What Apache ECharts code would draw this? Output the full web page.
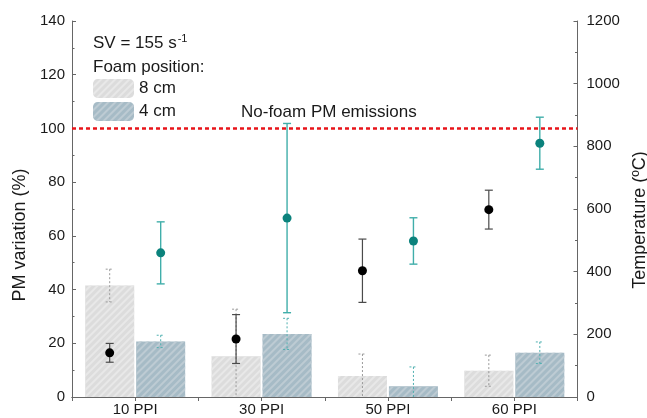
<!DOCTYPE html>
<html>
<head>
<meta charset="utf-8">
<script src="https://cdn.jsdelivr.net/npm/echarts@6/dist/echarts.min.js"></script>
<style>html,body{margin:0;padding:0;background:#fff}#c{width:647px;height:418px}</style>
</head>
<body>
<div id="c"></div>
<script>
const categories = ['10 PPI', '30 PPI', '50 PPI', '60 PPI'];
const pm8 = [41.5, 15.2, 7.8, 9.8];
const pm8Err = [6.1, 17.5, 8.2, 5.8];
const pm4 = [20.7, 23.5, 4.0, 16.5];
const pm4Err = [2.3, 5.8, 7.2, 4.0];
const temp8 = [141, 185, 403, 598];
const temp8Err = [30, 78, 101, 62];
const temp4 = [460, 571, 498, 810];
const temp4Err = [99, 302, 74, 83];
const noFoamLevel = 100;

const FONT = 'Liberation Sans, Arial, sans-serif';
const BAR_W = 49;
const OFFSET = 25.5;

function toData(vals, errs) { return vals.map((v, i) => [i, v, errs[i]]); }

function errRender(side, color, dashed, dotColor, lineW) {
  return function (params, api) {
    const i = api.value(0), v = api.value(1), e = api.value(2);
    const c = api.coord([i, v]);
    const t = api.coord([i, v + e]);
    const b = api.coord([i, Math.max(0, v - e)]);
    const x = c[0] + side * OFFSET;
    const style = { stroke: color, lineWidth: lineW, lineDash: dashed ? [2, 2] : null };
    const capW = 4;
    const children = [
      { type: 'line', shape: { x1: x, y1: t[1], x2: x, y2: b[1] }, style: style },
      { type: 'line', shape: { x1: x - capW, y1: t[1], x2: x + capW, y2: t[1] }, style: style }
    ];
    if (v - e > 0) children.push({ type: 'line', shape: { x1: x - capW, y1: b[1], x2: x + capW, y2: b[1] }, style: style });
    if (dotColor) children.push({ type: 'circle', shape: { cx: x, cy: c[1], r: 4.5 }, style: { fill: dotColor } });
    return { type: 'group', children: children };
  };
}

const chart = echarts.init(document.getElementById('c'), null, { renderer: 'canvas' });
const axisLineStyle = { color: '#666', width: 1 };
chart.setOption({
  animation: false,
  textStyle: { fontFamily: FONT },
  grid: { left: 72, right: 69.5, top: 21, bottom: 21, containLabel: false, outerBoundsMode: 'none' },
  legend: {
    left: 93, top: 79, orient: 'vertical', itemWidth: 41, itemHeight: 19, itemGap: 4, padding: 0,
    textStyle: { fontFamily: FONT, fontSize: 17, color: '#1a1a1a' },
    data: ['8 cm', '4 cm']
  },
  xAxis: [
    {
      type: 'category', data: categories, position: 'bottom',
      axisLine: { lineStyle: axisLineStyle },
      axisTick: { inside: true, length: 4, lineStyle: axisLineStyle },
      axisLabel: { fontFamily: FONT, fontSize: 15, color: '#1a1a1a', margin: 5 }
    },
    {
      type: 'value', position: 'top', min: 0, max: 8, interval: 1,
      axisLine: { show: true, lineStyle: axisLineStyle },
      axisTick: { show: true, inside: true, length: 4, lineStyle: axisLineStyle },
      axisLabel: { show: false }, splitLine: { show: false }
    }
  ],
  yAxis: [
    {
      type: 'value', min: 0, max: 140, interval: 20, position: 'left',
      name: 'PM variation (%)', nameLocation: 'middle', nameRotate: 90, nameGap: 37,
      nameTextStyle: { fontFamily: FONT, fontSize: 18, color: '#1a1a1a', padding: [0, 52, 0, 0] },
      axisLine: { show: true, lineStyle: axisLineStyle },
      axisTick: { show: true, inside: true, length: 4, lineStyle: axisLineStyle },
      minorTick: { show: true, splitNumber: 2, length: 2.5, lineStyle: axisLineStyle },
      axisLabel: { fontFamily: FONT, fontSize: 15, color: '#1a1a1a', margin: 7 },
      splitLine: { show: false }
    },
    {
      type: 'value', min: 0, max: 1200, interval: 200, position: 'right',
      name: 'Temperature (ºC)', nameLocation: 'middle', nameRotate: 90, nameGap: 52,
      nameTextStyle: { fontFamily: FONT, fontSize: 18, color: '#1a1a1a', padding: [0, 22, 0, 0] },
      axisLine: { show: true, lineStyle: axisLineStyle },
      axisTick: { show: true, inside: true, length: 4, lineStyle: axisLineStyle },
      minorTick: { show: true, splitNumber: 2, length: 2.5, lineStyle: axisLineStyle },
      axisLabel: { fontFamily: FONT, fontSize: 15, color: '#1a1a1a', margin: 9, formatter: v => String(v) },
      splitLine: { show: false }
    }
  ],
  series: [
    {
      name: '8 cm', type: 'bar', data: pm8, barWidth: BAR_W, barGap: '4%',
      itemStyle: {
        color: '#dcdcdc',
        decal: { symbol: 'rect', symbolSize: 1, color: '#e8e8e8', dashArrayX: [1, 0], dashArrayY: [1.2, 2.2], rotation: -Math.PI / 4 }
      },
      markLine: {
        silent: true, symbol: 'none', label: { show: false },
        lineStyle: { color: '#e8141a', type: [4, 3], width: 2.5 },
        data: [{ yAxis: noFoamLevel }]
      }
    },
    {
      name: '4 cm', type: 'bar', data: pm4, barWidth: BAR_W,
      itemStyle: {
        color: '#a6bbc6',
        decal: { symbol: 'rect', symbolSize: 1, color: '#bdcbd3', dashArrayX: [1, 0], dashArrayY: [1.2, 2.2], rotation: -Math.PI / 4 }
      }
    },
    { type: 'custom', xAxisIndex: 0, yAxisIndex: 0, data: toData(pm8, pm8Err), encode: { x: 0, y: 1 }, z: 5,
      renderItem: errRender(-1, '#9a9a9a', true, null, 1) },
    { type: 'custom', xAxisIndex: 0, yAxisIndex: 0, data: toData(pm4, pm4Err), encode: { x: 0, y: 1 }, z: 5,
      renderItem: errRender(1, '#4fb0b0', true, null, 1) },
    { type: 'custom', xAxisIndex: 0, yAxisIndex: 1, data: toData(temp8, temp8Err), encode: { x: 0, y: 1 }, z: 6,
      renderItem: errRender(-1, '#4a4a4a', false, '#000000', 1.2) },
    { type: 'custom', xAxisIndex: 0, yAxisIndex: 1, data: toData(temp4, temp4Err), encode: { x: 0, y: 1 }, z: 6,
      renderItem: errRender(1, '#40aeaa', false, '#0b827c', 1.4) }
  ],
  graphic: [
    { type: 'text', left: 93, top: 33, style: {
      text: '{a|SV = 155 s}{s|-1}', fill: '#1a1a1a',
      rich: { a: { fontFamily: FONT, fontSize: 17, fill: '#1a1a1a' }, s: { fontFamily: FONT, fontSize: 11, fill: '#1a1a1a', padding: [0, 0, 9, 1] } }
    } },
    { type: 'text', left: 93, top: 59, style: { text: 'Foam position:', fontFamily: FONT, fontSize: 17, fill: '#1a1a1a' } },
    { type: 'text', left: 241, top: 104, style: { text: 'No-foam PM emissions', fontFamily: FONT, fontSize: 17, fill: '#1a1a1a' } }
  ]
});
</script>
</body>
</html>
